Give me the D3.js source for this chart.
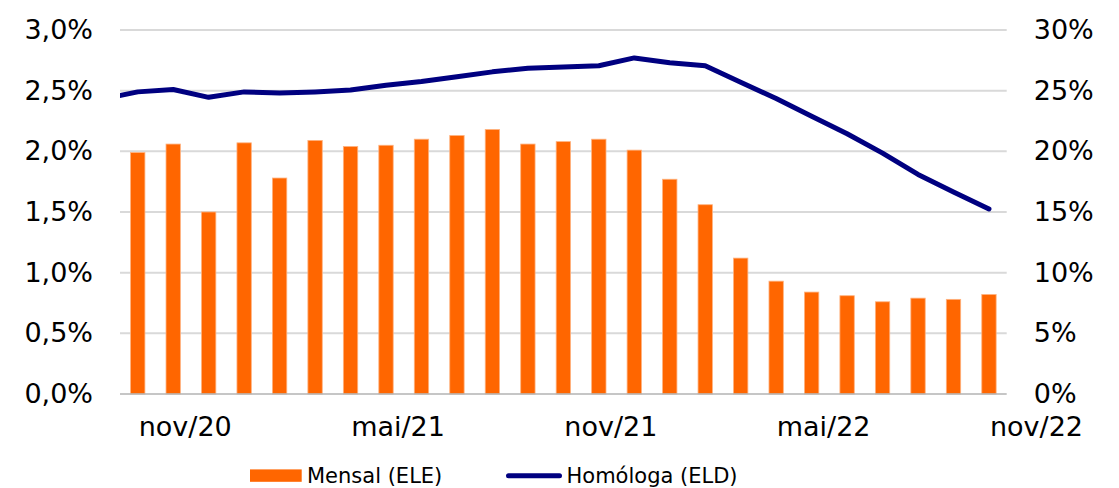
<!DOCTYPE html>
<html>
<head>
<meta charset="utf-8">
<script src="https://cdn.jsdelivr.net/npm/d3@7/dist/d3.min.js"></script>
<style>
  html, body { margin: 0; padding: 0; background: #fff; }
  svg { display: block; font-family: "DejaVu Sans", Verdana, sans-serif; }
</style>
</head>
<body>
<svg id="chart" width="1119" height="488"></svg>
<script>
// ---- Data ----
const months = ["out/20","nov/20","dez/20","jan/21","fev/21","mar/21","abr/21","mai/21","jun/21","jul/21","ago/21","set/21","out/21","nov/21","dez/21","jan/22","fev/22","mar/22","abr/22","mai/22","jun/22","jul/22","ago/22","set/22","out/22"];
// Mensal (ELE), %
const mensal = [1.99, 2.06, 1.50, 2.07, 1.78, 2.09, 2.04, 2.05, 2.10, 2.13, 2.18, 2.06, 2.08, 2.10, 2.01, 1.77, 1.56, 1.12, 0.93, 0.84, 0.81, 0.76, 0.79, 0.78, 0.82];
// Homóloga (ELD), % — includes the preceding month (set/20), partly outside the plot
const homMonths = ["set/20"].concat(months);
const homologa = [24.3, 24.9, 25.1, 24.45, 24.9, 24.8, 24.9, 25.05, 25.45, 25.75, 26.15, 26.55, 26.85, 26.95, 27.05, 27.7, 27.3, 27.05, 25.7, 24.35, 22.9, 21.45, 19.85, 18.1, 16.65, 15.25];
const xTickLabels = ["nov/20","mai/21","nov/21","mai/22","nov/22"];
const leftTicks = [0, 0.5, 1.0, 1.5, 2.0, 2.5, 3.0];
const rightTicks = [0, 5, 10, 15, 20, 25, 30];
const seriesNames = ["Mensal (ELE)", "Homóloga (ELD)"];

// ---- Layout ----
const W = 1119, H = 488;
const M = { left: 120, right: 1119 - 1006.7, top: 30, bottom: 488 - 394 };
const pw = W - M.left - M.right, ph = H - M.top - M.bottom;
const orange = "#FF6600", navy = "#000080";
const axisFont = 27;

const svg = d3.select("#chart");
const g = svg.append("g").attr("transform", `translate(${M.left},${M.top})`);

const xi = d3.scaleLinear().domain([-0.5, months.length - 0.5]).range([0, pw]);
const step = xi(1) - xi(0);
const yL = d3.scaleLinear().domain([0, 3]).range([ph, 0]);
const yR = d3.scaleLinear().domain([0, 30]).range([ph, 0]);

const loc = d3.formatLocale({ decimal: ",", thousands: ".", grouping: [3], currency: ["", "€"] });
const f1 = loc.format(".1f");

// gridlines
g.append("g").selectAll("line").data(leftTicks.filter(d => d > 0)).join("line")
  .attr("x1", 0).attr("x2", pw)
  .attr("y1", d => yL(d)).attr("y2", d => yL(d))
  .attr("stroke", "#d9d9d9").attr("stroke-width", 2);

// bars
const bw = step * 0.405;
g.append("g").selectAll("rect").data(mensal).join("rect")
  .attr("x", (d, i) => xi(i) - bw / 2)
  .attr("width", bw)
  .attr("y", d => yL(d))
  .attr("height", d => yL(0) - yL(d))
  .attr("fill", orange)
  .attr("stroke", "#ffb27f").attr("stroke-width", 0.8);

// baseline
g.append("line").attr("x1", 0).attr("x2", pw).attr("y1", yL(0)).attr("y2", yL(0))
  .attr("stroke", "#b3b3b3").attr("stroke-width", 1.5);

// line (clipped to plot area)
svg.append("defs").append("clipPath").attr("id", "plotclip")
  .append("rect").attr("x", 0).attr("y", -10).attr("width", pw).attr("height", ph + 20);
const line = d3.line().x((d, i) => xi(i - 1)).y(d => yR(d));
g.append("path").datum(homologa)
  .attr("clip-path", "url(#plotclip)")
  .attr("d", line)
  .attr("fill", "none").attr("stroke", navy).attr("stroke-width", 5)
  .attr("stroke-linejoin", "round").attr("stroke-linecap", "round");

// left axis
const axL = d3.axisLeft(yL).tickValues(leftTicks).tickFormat(d => f1(d) + "%").tickSize(0).tickPadding(27);
const gL = g.append("g").call(axL);
gL.select(".domain").remove();
gL.selectAll("text").attr("font-size", axisFont).attr("fill", "#000").attr("font-family", "DejaVu Sans, Verdana, sans-serif");

// right axis
const axR = d3.axisRight(yR).tickValues(rightTicks).tickFormat(d => d + "%").tickSize(0).tickPadding(27);
const gR = g.append("g").attr("transform", `translate(${pw},0)`).call(axR);
gR.select(".domain").remove();
gR.selectAll("text").attr("font-size", axisFont).attr("fill", "#000").attr("font-family", "DejaVu Sans, Verdana, sans-serif");

// bottom axis labels (every 6 months starting at nov/20)
const axB = d3.axisBottom(xi)
  .tickValues(xTickLabels.map((lbl, k) => months.indexOf(xTickLabels[0]) + 6 * k))
  .tickFormat((d, k) => xTickLabels[k]).tickSize(0).tickPadding(23);
const gB = g.append("g").attr("transform", `translate(0,${ph})`).call(axB);
gB.select(".domain").remove();
gB.selectAll("text").attr("font-size", axisFont).attr("fill", "#000")
  .attr("font-family", "DejaVu Sans, Verdana, sans-serif")
  .attr("dx", step * 0.325);

// legend
const lg = svg.append("g").attr("transform", "translate(0,475.7)");
lg.append("rect").attr("x", 250).attr("y", -6.3).attr("width", 51.7).attr("height", 12.4).attr("fill", orange);
lg.append("text").attr("x", 307).attr("y", 0).attr("dy", "0.35em").attr("font-size", 21).attr("fill", "#000").text(seriesNames[0]);
lg.append("line").attr("x1", 508.5).attr("x2", 559.5).attr("y1", 0).attr("y2", 0)
  .attr("stroke", navy).attr("stroke-width", 5).attr("stroke-linecap", "round");
lg.append("text").attr("x", 566.5).attr("y", 0).attr("dy", "0.35em").attr("font-size", 21).attr("fill", "#000").text(seriesNames[1]);
</script>
</body>
</html>
